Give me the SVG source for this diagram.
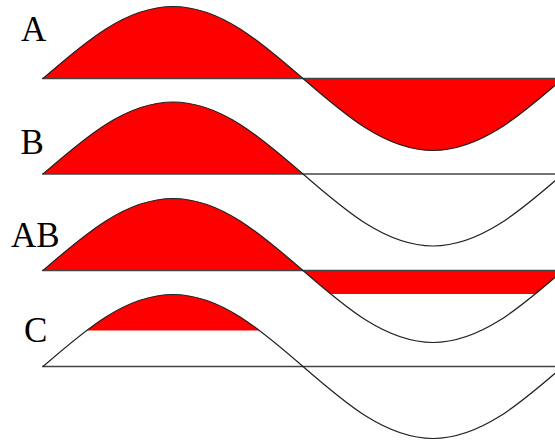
<svg xmlns="http://www.w3.org/2000/svg" xmlns:xlink="http://www.w3.org/1999/xlink" width="555" height="441" viewBox="0 0 555 441">
  <style>
    .lbl { font-family: "Liberation Serif", "Times New Roman", serif; font-size: 35px; fill: #000; }
    .fill { fill: #ff0000; stroke: none; }
    .curve { fill: none; stroke: #222; stroke-width: 1.2; }
    .base { stroke: #444; stroke-width: 1.5; }
  </style>
  <defs>
    <path id="wave" d="M0,0 c42.4,-36.9 82.95,-72 130,-72 c47.05,0 87.6,35.1 130,72 c42.4,36.9 82.95,72 130,72 c47.05,0 87.6,-35.1 130,-72"/>
    <path id="full" d="M0,0 c42.4,-36.9 82.95,-72 130,-72 c47.05,0 87.6,35.1 130,72 c42.4,36.9 82.95,72 130,72 c47.05,0 87.6,-35.1 130,-72 Z"/>
    <path id="pos" d="M0,0 c42.4,-36.9 82.95,-72 130,-72 c47.05,0 87.6,35.1 130,72 Z"/>
    <clipPath id="clipAB"><rect x="-10" y="-80" width="600" height="103.5"/></clipPath>
    <clipPath id="clipC"><rect x="-10" y="-80" width="600" height="44"/></clipPath>
  </defs>

  <g id="waveA" transform="translate(43,78.5)">
    <use xlink:href="#full" class="fill"/>
    <line class="base" x1="-1" y1="0" x2="520" y2="0"/>
    <use xlink:href="#wave" class="curve"/>
  </g>
  <text class="lbl" x="21" y="40.5">A</text>

  <g id="waveB" transform="translate(43,174)">
    <use xlink:href="#pos" class="fill"/>
    <line class="base" x1="-1" y1="0" x2="520" y2="0"/>
    <use xlink:href="#wave" class="curve"/>
  </g>
  <text class="lbl" x="20.5" y="154">B</text>

  <g id="waveAB" transform="translate(43,270.5)">
    <use xlink:href="#full" class="fill" clip-path="url(#clipAB)"/>
    <line class="base" x1="-1" y1="0" x2="520" y2="0"/>
    <use xlink:href="#wave" class="curve"/>
  </g>
  <text class="lbl" x="11" y="246.5">AB</text>

  <g id="waveC" transform="translate(43,366.5)">
    <use xlink:href="#pos" class="fill" clip-path="url(#clipC)"/>
    <line class="base" x1="-1" y1="0" x2="520" y2="0"/>
    <use xlink:href="#wave" class="curve"/>
  </g>
  <text class="lbl" x="24" y="342">C</text>
</svg>
